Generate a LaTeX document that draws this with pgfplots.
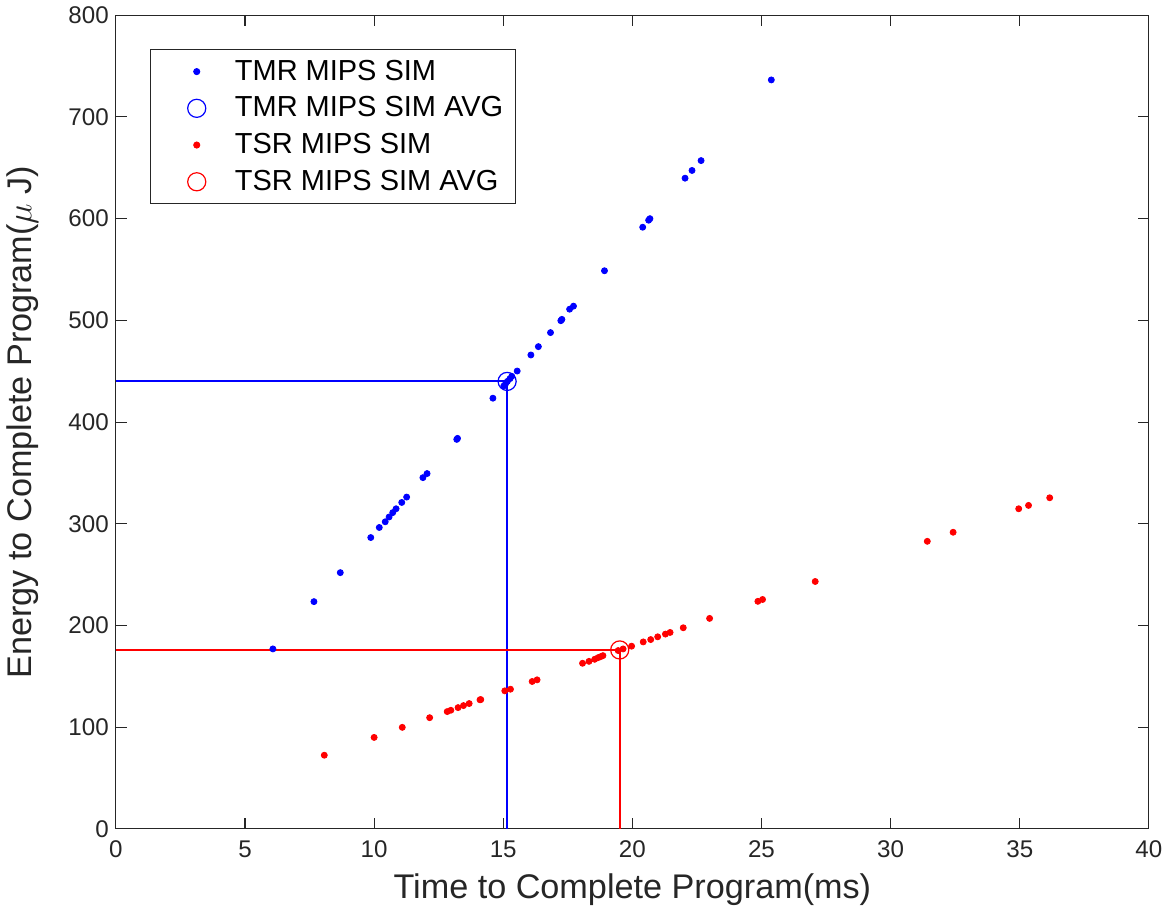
\documentclass[border=0pt]{standalone}
\usepackage{pgfplots}
\pgfplotsset{compat=1.18}
\usepackage{fontspec}
\setmainfont{Liberation Sans}
\definecolor{axgray}{RGB}{38,38,38}
\begin{document}
\begin{tikzpicture}
\begin{axis}[
  scale only axis,
  width=513.5pt, height=404.5pt,
  xmin=0, xmax=40, ymin=0, ymax=800,
  xtick={0,5,...,40}, ytick={0,100,...,800},
  tick align=inside,
  major tick length=5.5pt,
  axis line style={axgray, line width=0.5pt},
  every tick/.style={axgray, line width=0.5pt},
  tick label style={font=\fontsize{12}{14}\selectfont, text=axgray},
  xticklabel style={yshift=-2.5pt},
  /pgf/number format/assume math mode=true,
  xlabel={Time to Complete Program(ms)},
  ylabel={Energy to Complete Program($\mu$ J)},
  label style={font=\fontsize{17}{19}\selectfont, text=axgray},
  xlabel style={yshift=-1pt},
  ylabel style={yshift=8pt},
  legend style={at={(0.033,0.958)}, anchor=north west, draw=axgray, line width=0.5pt,
    font=\fontsize{14.4}{17}\selectfont, inner xsep=4pt, inner ysep=3pt, row sep=2.7pt,
    legend cell align=left},
  legend image code/.code={\pgfpathrectangle{\pgfpoint{0pt}{-1pt}}{\pgfpoint{36pt}{2pt}}\pgfusepath{use as bounding box}\draw[#1] plot coordinates {(19pt,0pt)};},
]
\addplot[only marks, mark=*, mark size=1.5pt, color=blue] coordinates {
(6.08,177) (7.67,223.5) (8.69,252) (9.87,286.5) (10.2,296.4) (10.43,302) (10.58,306.7)
(10.72,311) (10.85,314.8) (11.07,321) (11.26,326.3) (11.89,345.4) (12.05,349.4)
(13.2,383) (13.23,384) (14.6,423.5) (15.02,435.5) (15.09,437.7) (15.16,440) (15.26,442.7)
(15.33,445) (15.54,450.2) (16.07,466) (16.36,474.2) (16.83,488) (17.23,499.7) (17.27,501)
(17.57,511) (17.72,514) (18.92,548.8) (20.4,591.6) (20.63,598.5) (20.68,600) (22.04,639.8)
(22.31,647.4) (22.66,657.1) (25.38,736.4)
};
\addlegendentry{TMR MIPS SIM}
\addplot[only marks, mark=o, mark size=4.5pt, color=blue, line width=0.6pt] coordinates {(15.15,440)};
\addlegendentry{TMR MIPS SIM AVG}
\addplot[only marks, mark=*, mark size=1.5pt, color=red] coordinates {
(8.07,72.5) (10.0,90) (11.09,99.9) (12.15,109.4) (12.83,115.4) (12.97,116.7) (13.25,119.3)
(13.46,121.3) (13.68,123.3) (14.1,127) (14.13,127.2) (15.06,135.8) (15.28,137.4) (16.12,145)
(16.31,146.6) (18.07,162.9) (18.32,164.8) (18.54,166.8) (18.67,168.4) (18.77,169.4)
(18.86,170.4) (19.45,175.4) (19.64,177) (19.97,179.7) (20.42,183.9) (20.71,186.2)
(20.98,188.9) (21.28,191.6) (21.46,193.2) (21.97,197.8) (22.99,207) (24.86,223.8)
(25.04,225.6) (27.08,243.3) (31.42,282.8) (32.42,291.7) (34.96,314.8) (35.34,318.1)
(36.16,325.6)
};
\addlegendentry{TSR MIPS SIM}
\addplot[only marks, mark=o, mark size=4.5pt, color=red, line width=0.6pt] coordinates {(19.51,176)};
\addlegendentry{TSR MIPS SIM AVG}
\addplot[draw=blue, color=blue, line width=1pt, mark=none, forget plot] coordinates {(0,440) (15.15,440) (15.15,0)};
\addplot[draw=red, color=red, line width=1pt, mark=none, forget plot] coordinates {(0,176) (19.51,176) (19.51,0)};
\end{axis}
\end{tikzpicture}
\end{document}
